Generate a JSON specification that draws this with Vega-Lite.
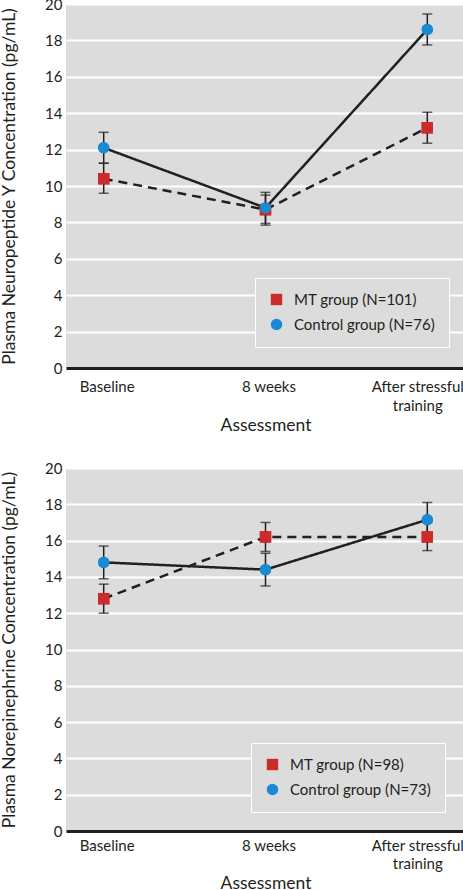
{
  "$schema": "https://vega.github.io/schema/vega-lite/v6.json",
  "padding": {"left": 0, "right": 0, "top": -3, "bottom": 0},
  "background": "white",
  "spacing": 27,
  "config": {
    "font": "Lato",
    "view": {"fill": "#dcdcdc", "stroke": null},
    "axis": {
      "labelFont": "Lato", "labelFontSize": 15, "labelColor": "#231f20",
      "titleFont": "Lato", "titleFontSize": 17.5, "titleFontWeight": "normal", "titleColor": "#231f20",
      "tickSize": 0, "disable": false
    },
    "axisY": {"domain": false, "grid": true, "gridColor": "white", "gridWidth": 2, "labelPadding": 4, "titlePadding": 26, "labelOverlap": false},
    "legend": {
      "disable": false,
      "fillColor": "#dcdcdc", "strokeColor": "white",
      "padding": 14, "labelFont": "Lato", "labelFontSize": 15, "labelColor": "#231f20",
      "labelOffset": 10, "rowPadding": 9, "symbolSize": 130
    }
  },
  "datasets": {
    "npy": [
      {"time": "Baseline", "group": "MT group (N=101)", "mean": 10.4, "lo": 9.6, "hi": 11.25},
      {"time": "8 weeks", "group": "MT group (N=101)", "mean": 8.7, "lo": 7.85, "hi": 9.5},
      {"time": "After stressful training", "group": "MT group (N=101)", "mean": 13.2, "lo": 12.35, "hi": 14.05},
      {"time": "Baseline", "group": "Control group (N=76)", "mean": 12.1, "lo": 11.25, "hi": 12.95},
      {"time": "8 weeks", "group": "Control group (N=76)", "mean": 8.8, "lo": 7.95, "hi": 9.65},
      {"time": "After stressful training", "group": "Control group (N=76)", "mean": 18.6, "lo": 17.75, "hi": 19.45}
    ],
    "ne": [
      {"time": "Baseline", "group": "MT group (N=98)", "mean": 12.8, "lo": 12.0, "hi": 13.6},
      {"time": "8 weeks", "group": "MT group (N=98)", "mean": 16.2, "lo": 15.4, "hi": 17.0},
      {"time": "After stressful training", "group": "MT group (N=98)", "mean": 16.2, "lo": 15.45, "hi": 17.0},
      {"time": "Baseline", "group": "Control group (N=73)", "mean": 14.8, "lo": 13.9, "hi": 15.7},
      {"time": "8 weeks", "group": "Control group (N=73)", "mean": 14.4, "lo": 13.5, "hi": 15.3},
      {"time": "After stressful training", "group": "Control group (N=73)", "mean": 17.15, "lo": 16.25, "hi": 18.1}
    ]
  },
  "resolve": {"scale": {"color": "independent", "shape": "independent", "strokeDash": "independent"}},
  "vconcat": [
    {
      "width": 399, "height": 364,
      "data": {"name": "npy"},
      "encoding": {
        "x": {"field": "time", "type": "ordinal", "sort": ["Baseline", "8 weeks", "After stressful training"],
          "scale": {"type": "point", "padding": 0.233},
          "axis": {"title": "Assessment", "labelAngle": 0, "labelPadding": 11, "titlePadding": 3,
            "domainColor": "#231f20", "domainWidth": 3, "grid": false, "labelLineHeight": 19,
            "labelOffset": {"condition": {"test": "datum.value === 'After stressful training'", "value": -10}, "value": 3},
            "labelExpr": "datum.value === 'After stressful training' ? ['After stressful', 'training'] : datum.value"}
        }
      },
      "layer": [
        {"mark": {"type": "point", "filled": true, "opacity": 1, "size": 130},
          "encoding": {"y": {"field": "mean", "type": "quantitative", "scale": {"domain": [0, 20], "nice": false},
              "axis": {"title": "Plasma Neuropeptide Y Concentration (pg/mL)", "tickCount": 10}},
            "color": {"field": "group", "type": "nominal", "scale": {"domain": ["MT group (N=101)", "Control group (N=76)"], "range": ["#cc2b2b", "#1a8bd3"]},
              "legend": {"title": null, "orient": "none", "legendX": 189, "legendY": 274}},
            "shape": {"field": "group", "type": "nominal", "scale": {"domain": ["MT group (N=101)", "Control group (N=76)"], "range": ["square", "circle"]},
              "legend": {"title": null, "orient": "none", "legendX": 189, "legendY": 274}}}},
        {"mark": {"type": "errorbar", "ticks": {"size": 10, "thickness": 1.5, "color": "#231f20"}, "rule": {"strokeWidth": 1.5, "color": "#231f20"}},
          "encoding": {"y": {"field": "lo", "type": "quantitative", "title": "Plasma Neuropeptide Y Concentration (pg/mL)"},
            "y2": {"field": "hi"}}},
        {"mark": {"type": "line", "color": "#231f20", "strokeWidth": 2.5},
          "encoding": {"y": {"field": "mean", "type": "quantitative"},
            "detail": {"field": "group"},
            "strokeDash": {"field": "group", "type": "nominal", "scale": {"domain": ["MT group (N=101)", "Control group (N=76)"], "range": [[9, 6], [1, 0]]}, "legend": null}}},
        {"mark": {"type": "point", "filled": true, "opacity": 1, "size": 130},
          "encoding": {"y": {"field": "mean", "type": "quantitative"},
            "color": {"field": "group", "type": "nominal", "scale": {"domain": ["MT group (N=101)", "Control group (N=76)"], "range": ["#cc2b2b", "#1a8bd3"]},
              "legend": {"title": null, "orient": "none", "legendX": 189, "legendY": 274}},
            "shape": {"field": "group", "type": "nominal", "scale": {"domain": ["MT group (N=101)", "Control group (N=76)"], "range": ["square", "circle"]},
              "legend": {"title": null, "orient": "none", "legendX": 189, "legendY": 274}}}}
      ]
    },
    {
      "width": 399, "height": 363,
      "data": {"name": "ne"},
      "encoding": {
        "x": {"field": "time", "type": "ordinal", "sort": ["Baseline", "8 weeks", "After stressful training"],
          "scale": {"type": "point", "padding": 0.233},
          "axis": {"title": "Assessment", "labelAngle": 0, "labelPadding": 7, "titlePadding": 3,
            "domainColor": "#231f20", "domainWidth": 3, "grid": false, "labelLineHeight": 18,
            "labelOffset": {"condition": {"test": "datum.value === 'After stressful training'", "value": -10}, "value": 3},
            "labelExpr": "datum.value === 'After stressful training' ? ['After stressful', 'training'] : datum.value"}
        }
      },
      "layer": [
        {"mark": {"type": "point", "filled": true, "opacity": 1, "size": 130},
          "encoding": {"y": {"field": "mean", "type": "quantitative", "scale": {"domain": [0, 20], "nice": false},
              "axis": {"title": "Plasma Norepinephrine Concentration (pg/mL)", "tickCount": 10}},
            "color": {"field": "group", "type": "nominal", "scale": {"domain": ["MT group (N=98)", "Control group (N=73)"], "range": ["#cc2b2b", "#1a8bd3"]},
              "legend": {"title": null, "orient": "none", "legendX": 185, "legendY": 275}},
            "shape": {"field": "group", "type": "nominal", "scale": {"domain": ["MT group (N=98)", "Control group (N=73)"], "range": ["square", "circle"]},
              "legend": {"title": null, "orient": "none", "legendX": 185, "legendY": 275}}}},
        {"mark": {"type": "errorbar", "ticks": {"size": 10, "thickness": 1.5, "color": "#231f20"}, "rule": {"strokeWidth": 1.5, "color": "#231f20"}},
          "encoding": {"y": {"field": "lo", "type": "quantitative", "title": "Plasma Norepinephrine Concentration (pg/mL)"},
            "y2": {"field": "hi"}}},
        {"mark": {"type": "line", "color": "#231f20", "strokeWidth": 2.5},
          "encoding": {"y": {"field": "mean", "type": "quantitative"},
            "detail": {"field": "group"},
            "strokeDash": {"field": "group", "type": "nominal", "scale": {"domain": ["MT group (N=98)", "Control group (N=73)"], "range": [[9, 6], [1, 0]]}, "legend": null}}},
        {"mark": {"type": "point", "filled": true, "opacity": 1, "size": 130},
          "encoding": {"y": {"field": "mean", "type": "quantitative"},
            "color": {"field": "group", "type": "nominal", "scale": {"domain": ["MT group (N=98)", "Control group (N=73)"], "range": ["#cc2b2b", "#1a8bd3"]},
              "legend": {"title": null, "orient": "none", "legendX": 185, "legendY": 275}},
            "shape": {"field": "group", "type": "nominal", "scale": {"domain": ["MT group (N=98)", "Control group (N=73)"], "range": ["square", "circle"]},
              "legend": {"title": null, "orient": "none", "legendX": 185, "legendY": 275}}}}
      ]
    }
  ]
}
